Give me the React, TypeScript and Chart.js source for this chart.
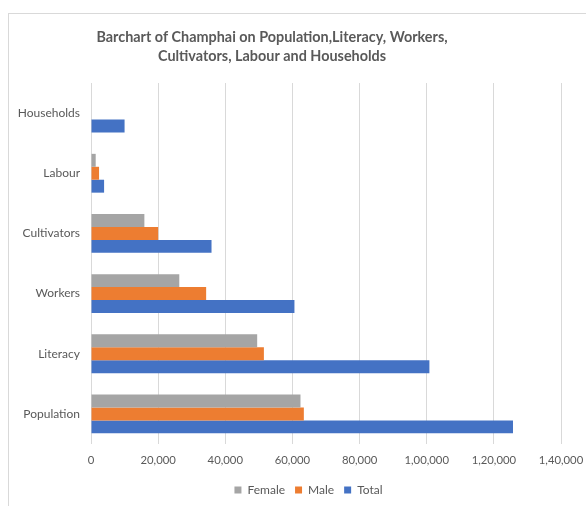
import React, { useEffect, useRef } from "react";
import { Chart, registerables } from "chart.js";

Chart.register(...registerables);

const categories = ["Households", "Labour", "Cultivators", "Workers", "Literacy", "Population"];
const femaleValues = [0, 1400, 15900, 26300, 49500, 62400];
const maleValues = [0, 2400, 20000, 34300, 51500, 63400];
const totalValues = [10000, 3900, 35900, 60600, 100800, 125700];
const seriesNames = ["Female", "Male", "Total"];
const titleLines = ["Barchart of Champhai on Population,Literacy, Workers,", "Cultivators, Labour and Households"];

const TEXT = "#595959";
const FONT = "Lato, 'Noto Sans', sans-serif";

function indianFormat(v: number): string {
  const s = Math.round(v).toString();
  if (s.length <= 3) return s;
  const last3 = s.slice(-3);
  let rest = s.slice(0, -3);
  const parts: string[] = [];
  while (rest.length > 2) {
    parts.unshift(rest.slice(-2));
    rest = rest.slice(0, -2);
  }
  if (rest.length) parts.unshift(rest);
  return parts.join(",") + "," + last3;
}

const titlePlugin = {
  id: "customTitle",
  afterLayout(chart: any) {
    if (chart.legend) {
      chart.legend.left += 24;
      chart.legend.right += 24;
    }
  },
  afterDraw(chart: any) {
    const ctx = chart.ctx;
    ctx.save();
    ctx.fillStyle = TEXT;
    ctx.font = `bold 14.4px ${FONT}`;
    ctx.textAlign = "center";
    ctx.textBaseline = "middle";
    ctx.fillText(titleLines[0], 272, 37);
    ctx.fillText(titleLines[1], 272, 56);
    ctx.restore();
  },
};

export default function App() {
  const ref = useRef<HTMLCanvasElement | null>(null);

  useEffect(() => {
    if (!ref.current) return;
    const chart = new Chart(ref.current, {
      type: "bar",
      data: {
        labels: categories,
        datasets: [
          { label: seriesNames[0], data: femaleValues, backgroundColor: "#A5A5A5" },
          { label: seriesNames[1], data: maleValues, backgroundColor: "#ED7D31" },
          { label: seriesNames[2], data: totalValues, backgroundColor: "#4472C4" },
        ],
      },
      options: {
        indexAxis: "y",
        responsive: false,
        animation: false,
        datasets: { bar: { categoryPercentage: 0.645, barPercentage: 1 } },
        layout: { padding: { left: 8, right: 25, top: 83, bottom: 0 } },
        scales: {
          x: {
            min: 0,
            max: 140000,
            ticks: {
              stepSize: 20000,
              color: TEXT,
              font: { family: FONT, size: 11.3 },
              padding: 10,
              callback: (v: any) => indianFormat(Number(v)),
            },
            grid: { color: "#d9d9d9", drawTicks: false },
            border: { display: false },
            afterFit: (s: any) => {
              s.height = 30;
              s.paddingLeft = 0;
              s.paddingRight = 0;
            },
          },
          y: {
            ticks: { color: TEXT, font: { family: FONT, size: 12 }, padding: 11 },
            grid: { display: false, drawTicks: false },
            border: { display: false },
            afterFit: (s: any) => {
              s.width = 83;
            },
          },
        },
        plugins: {
          title: { display: false },
          tooltip: { enabled: false },
          legend: {
            position: "bottom",
            labels: {
              boxWidth: 7,
              boxHeight: 7,
              padding: 10,
              color: TEXT,
              font: { family: FONT, size: 12 },
            },
          },
        },
      },
      plugins: [titlePlugin],
    });
    return () => chart.destroy();
  }, []);

  return (
    <div style={{ position: "fixed", left: 0, top: 0, width: 586, height: 506, overflow: "hidden", background: "#fff" }}>
      <div
        style={{
          position: "absolute",
          left: 8,
          top: 13,
          width: 640,
          height: 560,
          border: "1px solid #d9d9d9",
          boxSizing: "border-box",
        }}
      />
      <canvas ref={ref} width={586} height={506} style={{ position: "absolute", left: 0, top: 0 }} />
    </div>
  );
}
